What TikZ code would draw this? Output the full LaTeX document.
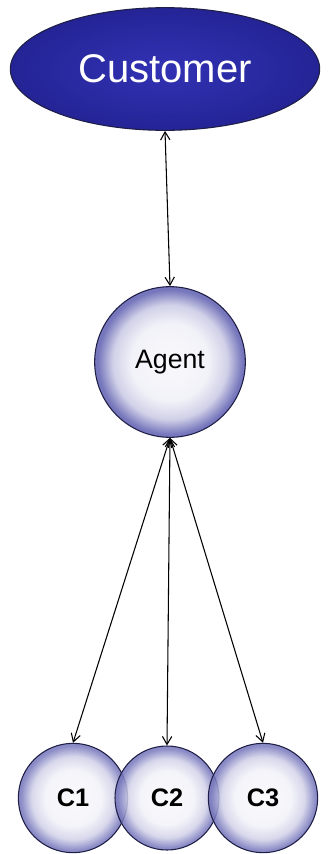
\documentclass[tikz,border=0pt]{standalone}
\usepackage{fontspec}
\setmainfont{Liberation Sans}
\usetikzlibrary{arrows.meta,shapes.geometric}
\definecolor{custblue}{RGB}{36,36,150}
\definecolor{custlight}{RGB}{50,50,180}
\definecolor{ballrim}{RGB}{118,118,188}
\definecolor{ballline}{RGB}{30,30,70}
\pgfdeclareradialshading{ballshade}{\pgfpoint{0bp}{0bp}}{color(0bp)=(white!96!ballrim); color(13bp)=(white!90!ballrim); color(19bp)=(white!66!ballrim); color(24bp)=(ballrim); color(25bp)=(ballrim); color(50bp)=(ballrim)}
\begin{document}
\begin{tikzpicture}[x=0.75pt, y=-0.75pt,
    every node/.style={inner sep=0pt},
    ball/.style={circle, draw=ballline, thick, shading=ballshade},
    link/.style={{Straight Barb[length=6pt,width=7pt]}-{Straight Barb[length=6pt,width=7pt]}, line width=0.8pt, black}]
        \useasboundingbox (0,0) rectangle (330,854);
        % customer on top
        \node[ellipse, draw=ballline, thick, inner color=custlight, outer color=custblue,
              minimum width=232pt, minimum height=92pt, text=white, font=\fontsize{30}{34}\selectfont]
              (customer) at (165,69) {Customer};
        % agent in the middle
        \node[ball, minimum size=113pt, font=\fontsize{20}{24}\selectfont] (agent) at (170,362) {Agent};
        % the three C balls
        \node[ball, fill opacity=0.85, text opacity=1, minimum size=82pt, font=\bfseries\fontsize{19}{22}\selectfont] (c1) at (73,798) {C1};
        \node[ball, fill opacity=0.85, text opacity=1, minimum size=78pt, font=\bfseries\fontsize{19}{22}\selectfont] (c2) at (167,798) {C2};
        \node[ball, fill opacity=0.85, text opacity=1, minimum size=82pt, font=\bfseries\fontsize{19}{22}\selectfont] (c3) at (263,798) {C3};
        \draw[link] (customer.south) -- (agent.north);
        \draw[link] (agent.south) -- (c1.north);
        \draw[link] (agent.south) -- (c2.north);
        \draw[link] (agent.south) -- (c3.north);
      \end{tikzpicture}
\end{document}
